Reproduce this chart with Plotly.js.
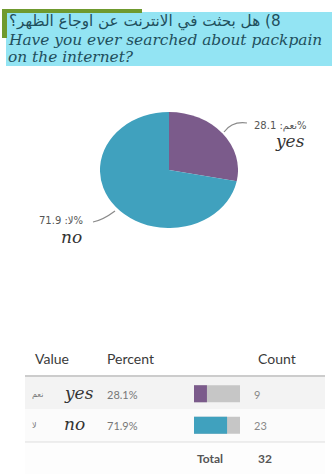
<!DOCTYPE html>
<html>
<head>
<meta charset="utf-8">
<script src="https://cdn.plot.ly/plotly-3.0.1.min.js"></script>
<style>
  html, body { margin: 0; padding: 0; background: #ffffff; }
  #wrap { position: relative; width: 336px; height: 474px; overflow: hidden; }
  #main { position: absolute; left: 0; top: 0; width: 336px; height: 474px; }
  #pie { position: absolute; left: 111px; top: 112px; width: 116px; height: 116px;
         transform: scaleX(1.19); transform-origin: 50% 50%; }
</style>
</head>
<body>
<div id="wrap">
  <div id="main"></div>
  <div id="pie"></div>
</div>
<script>
// ---- data ----
var categories = ["yes", "no"];
var arabicLabels = ["نعم", "لا"];
var counts = [9, 23];
var sliceColors = ["#7b5b8b", "#40a1be"];
var titleArabic = "8) هل بحثت في الانترنت عن اوجاع الظهر؟";
var titleEnglish1 = "Have you ever searched about packpain";
var titleEnglish2 = "on the internet?";
var tableHeaders = ["Value", "Percent", "Count"];
var totalLabel = "Total";

var total = counts.reduce(function (a, b) { return a + b; }, 0);
var percents = counts.map(function (c) { return Math.round(c / total * 1000) / 10; });

// ---- pixel helpers (layout only) ----
var W = 336, H = 474;
function X(px) { return px / W; }
function Y(py) { return 1 - py / H; }

var RLE = "\u202B", PDF = "\u202C";

// ---- main figure: title, labels, table ----
var annotations = [];
function ann(text, x, y, opts) {
  var a = Object.assign({
    text: text, xref: "paper", yref: "paper", x: X(x), y: Y(y),
    xanchor: "left", yanchor: "middle", showarrow: false,
    font: { family: "Lato, sans-serif", size: 12, color: "#555" }
  }, opts || {});
  annotations.push(a);
}

// title
ann(RLE + titleArabic + PDF, 283, 22, { xanchor: "right",
  font: { family: "DejaVu Sans, sans-serif", size: 15.2, color: "#1f4f5c" } });
ann("<i>" + titleEnglish1 + "</i>", 6, 40,
  { font: { family: "DejaVu Serif, serif", size: 15.4, color: "#1f4f5c" } });
ann("<i>" + titleEnglish2 + "</i>", 6, 57,
  { font: { family: "DejaVu Serif, serif", size: 15.4, color: "#1f4f5c" } });

// pie labels
var pieLabelPos = [{ x: 309, y: 126, ex: 307, ey: 141 }, { x: 85, y: 221, ex: 84, ey: 237 }];
for (var i = 0; i < categories.length; i++) {
  var p = pieLabelPos[i];
  ann(RLE + "%" + arabicLabels[i] + ": " + percents[i].toFixed(1) + PDF, p.x, p.y,
      { xanchor: "right", font: { family: "DejaVu Sans, sans-serif", size: 10, color: "#555" } });
  ann("<i>" + categories[i] + "</i>", p.ex, p.ey,
      { xanchor: "right", font: { family: "DejaVu Serif, serif", size: 17, color: "#333" } });
}

// table header
var headerX = [33, 105, 256];
for (var h = 0; h < tableHeaders.length; h++) {
  ann(tableHeaders[h], headerX[h], 358, { font: { family: "Lato, sans-serif", size: 14, color: "#3a3a3a" } });
}
// table rows
var rowY = [394, 425];
for (var r = 0; r < categories.length; r++) {
  ann(arabicLabels[r], 30, rowY[r], { font: { family: "DejaVu Sans, sans-serif", size: 8, color: "#777" } });
  ann("<i>" + categories[r] + "</i>", 62, rowY[r] - 1, { font: { family: "DejaVu Serif, serif", size: 17, color: "#333" } });
  ann(percents[r].toFixed(1) + "%", 105, rowY[r], { font: { family: "Lato, sans-serif", size: 11, color: "#777" } });
  ann(String(counts[r]), 252, rowY[r], { font: { family: "Lato, sans-serif", size: 11, color: "#888" } });
}
ann("<b>" + totalLabel + "</b>", 195, 458, { font: { family: "Lato, sans-serif", size: 12, color: "#555" } });
ann("<b>" + String(total) + "</b>", 256, 458, { font: { family: "Lato, sans-serif", size: 12, color: "#555" } });

function rect(x0, y0, x1, y1, fill, layer) {
  return { type: "rect", xref: "paper", yref: "paper", x0: X(x0), x1: X(x1), y0: Y(y1), y1: Y(y0),
           fillcolor: fill, line: { width: 0 }, layer: layer || "below" };
}
function hline(x0, x1, y, color, w) {
  return { type: "line", xref: "paper", yref: "paper", x0: X(x0), x1: X(x1), y0: Y(y), y1: Y(y),
           line: { color: color, width: w }, layer: "below" };
}
function curve(x0, y0, cx, cy, x1, y1) {
  return { type: "path", xref: "paper", yref: "paper",
           path: "M " + X(x0) + " " + Y(y0) + " Q " + X(cx) + " " + Y(cy) + " " + X(x1) + " " + Y(y1),
           line: { color: "#8a8a8a", width: 1.2 } };
}

var shapes = [
  rect(6, 12, 332, 66, "#93e4f3"),
  rect(2, 9, 142, 13, "#6f9a2e"),
  rect(2, 9, 7, 38, "#6f9a2e"),
  rect(25, 377, 325, 409, "#f3f3f3"),
  rect(25, 409, 325, 442, "#fbfbfb"),
  rect(25, 443, 325, 474, "#fdfdfd"),
  hline(25, 325, 376, "#cccccc", 2),
  hline(25, 325, 442, "#dddddd", 1),
  curve(224, 132, 232, 121, 247, 123),
  curve(93, 222, 103, 220, 115, 211)
];

// table bars
var bgTrace = {
  type: "bar", orientation: "h", y: categories, x: categories.map(function () { return 100; }),
  marker: { color: "#c6c6c6" }, width: 0.54, xaxis: "x", yaxis: "y", hoverinfo: "skip", showlegend: false
};
var fgTrace = {
  type: "bar", orientation: "h", y: categories, x: percents,
  marker: { color: sliceColors }, width: 0.54, xaxis: "x", yaxis: "y", hoverinfo: "skip", showlegend: false
};

var layout = {
  width: W, height: H,
  margin: { l: 0, r: 0, t: 0, b: 0 },
  paper_bgcolor: "#ffffff", plot_bgcolor: "rgba(0,0,0,0)",
  barmode: "overlay", showlegend: false,
  xaxis: { domain: [X(194), X(240)], range: [0, 100], visible: false, fixedrange: true },
  yaxis: { domain: [Y(441), Y(378)], type: "category", categoryarray: categories,
           range: [1.5, -0.5], visible: false, fixedrange: true },
  annotations: annotations,
  shapes: shapes
};

Plotly.newPlot("main", [bgTrace, fgTrace], layout, { displayModeBar: false, staticPlot: true });

// ---- pie (stretched horizontally via CSS to match the elliptical original) ----
var pieTrace = {
  type: "pie", labels: categories, values: counts, sort: false,
  direction: "clockwise", rotation: 0,
  marker: { colors: sliceColors, line: { width: 0 } },
  textinfo: "none", hoverinfo: "skip", showlegend: false,
  domain: { x: [0, 1], y: [0, 1] }
};
Plotly.newPlot("pie", [pieTrace], {
  width: 116, height: 116, margin: { l: 0, r: 0, t: 0, b: 0 },
  paper_bgcolor: "rgba(0,0,0,0)", showlegend: false
}, { displayModeBar: false, staticPlot: true });
</script>
</body>
</html>
